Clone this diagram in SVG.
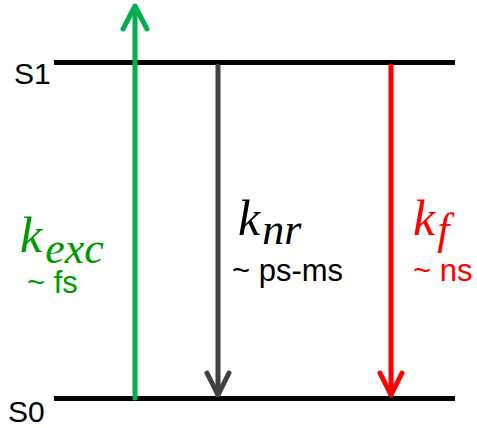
<svg xmlns="http://www.w3.org/2000/svg" width="477" height="428" viewBox="0 0 477 428">
<style>
.lvl{stroke:#000;stroke-width:5;fill:none}
.ar{fill:none;stroke-width:5;stroke-linecap:round;stroke-linejoin:round}
.lbl{font-family:"Liberation Sans",Arial,sans-serif;font-size:30px;fill:#000}
.sub{font-family:"Liberation Sans",Arial,sans-serif;font-size:31px}
.k{font-family:"Liberation Serif","Times New Roman",serif;font-style:italic}
</style>
<rect width="477" height="428" fill="#fff"/>
<g id="S1"><line class="lvl" x1="54" y1="62.5" x2="455" y2="62.5"/><text class="lbl" x="14" y="84">S1</text></g>
<g id="S0"><line class="lvl" x1="54" y1="398.5" x2="455" y2="398.5"/><text class="lbl" x="8" y="422">S0</text></g>
<g id="connectors">
<g id="exc"><line class="ar" stroke="#00b050" x1="135" y1="398" x2="135" y2="7"/><polyline class="ar" stroke="#00b050" points="123,29 135,6 147,29"/></g>
<g id="nr"><line class="ar" stroke="#404040" x1="218" y1="66" x2="218" y2="395" stroke-linecap="butt"/><polyline class="ar" stroke="#404040" points="207,373 218,395 229,373"/></g>
<g id="f"><line class="ar" stroke="#ff0000" x1="391" y1="66" x2="391" y2="395" stroke-linecap="butt"/><polyline class="ar" stroke="#ff0000" points="380,373 391,395 402,373"/></g>
</g>
<g id="label-exc" fill="#009900">
<text class="k" x="20" y="252" font-size="50">k<tspan font-size="44" dx="3" dy="11">exc</tspan></text>
<text class="sub" x="27" y="293">~ fs</text>
</g>
<g id="label-nr" fill="#000">
<text class="k" x="238" y="235" font-size="50">k<tspan font-size="44" dx="2" dy="9">nr</tspan></text>
<text class="sub" x="232" y="281">~ ps-ms</text>
</g>
<g id="label-f" fill="#ff0000">
<text class="k" x="413" y="235" font-size="50">k<tspan font-size="44" dx="2" dy="9">f</tspan></text>
<text class="sub" x="413" y="281">~ ns</text>
</g>
</svg>
